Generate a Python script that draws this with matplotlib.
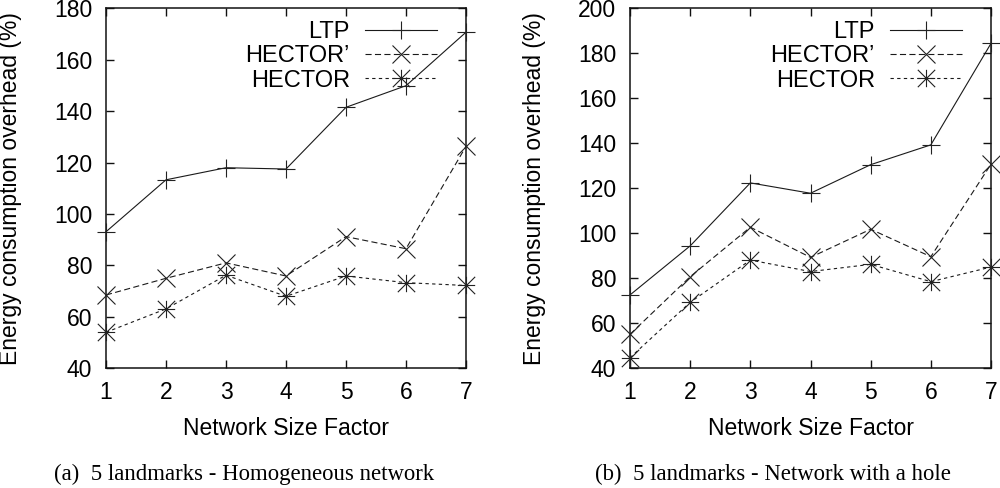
import matplotlib
matplotlib.use("Agg")
import matplotlib.pyplot as plt
from matplotlib.path import Path

plt.rcParams['font.family'] = ['Liberation Sans', 'DejaVu Sans']

# ---- data ----
size_factor = [1, 2, 3, 4, 5, 6, 7]

homog_ltp = [93.1, 113.3, 118.0, 117.5, 141.5, 149.9, 170.7]
homog_hector_p = [68.5, 75.0, 81.0, 75.9, 91.2, 86.5, 126.3]
homog_hector = [54.0, 63.1, 76.2, 68.0, 75.9, 73.3, 72.2]

hole_ltp = [72.6, 94.4, 122.4, 117.8, 130.5, 139.3, 184.4]
hole_hector_p = [55.1, 80.7, 102.7, 89.3, 101.8, 89.6, 130.7]
hole_hector = [44.7, 69.3, 88.1, 83.0, 86.2, 78.5, 85.0]

series_labels = ["LTP", "HECTOR\u2019", "HECTOR"]
x_ticks = [1, 2, 3, 4, 5, 6, 7]
y_ticks_a = [40, 60, 80, 100, 120, 140, 160, 180]
y_ticks_b = [40, 60, 80, 100, 120, 140, 160, 180, 200]
xlabel = "Network Size Factor"
ylabel = "Energy consumption overhead (%)"
caption_a = "(a)  5 landmarks - Homogeneous network"
caption_b = "(b)  5 landmarks - Network with a hole"

# ---- styling ----
star = Path([(-1, 0), (1, 0), (0, -1), (0, 1), (-1, -1), (1, 1), (-1, 1), (1, -1)],
            [Path.MOVETO, Path.LINETO] * 4)
line_color = '#1a1a1a'
FS = 16.5

fig = plt.figure(figsize=(10, 4.88), dpi=100)
ax_a = fig.add_axes([0.106, 0.2453, 0.360, 0.7377])
ax_b = fig.add_axes([0.630, 0.2453, 0.361, 0.7377])


def draw(ax, ltp, hp, h, yticks):
    styles = [
        dict(ls='-', marker='+', ms=13),
        dict(ls=(0, (5.5, 3.0)), marker='x', ms=12.5),
        dict(ls=(0, (3.0, 3.0)), marker=star, ms=12.5),
    ]
    for vals, lab, st in zip([ltp, hp, h], series_labels, styles):
        ax.plot(size_factor, vals, color=line_color, lw=0.8, ls=st['ls'],
                marker=st['marker'], ms=st['ms'], mew=0.8, mec='#222222',
                clip_on=False, label=lab, zorder=3)
    ax.set_xlim(1, 7)
    ax.set_ylim(yticks[0], yticks[-1])
    ax.set_xticks(x_ticks)
    ax.set_yticks(yticks)
    ax.tick_params(direction='in', length=6, width=1.0, top=True, right=True,
                   labelsize=FS, color='#111111')
    ax.tick_params(axis='y', pad=10)
    ax.tick_params(axis='x', pad=9)
    for s in ax.spines.values():
        s.set_linewidth(1.1)
        s.set_color('#111111')
    ax.set_xlabel(xlabel, fontsize=FS)
    ax.xaxis.set_label_coords(0.5, -0.166)
    ax.xaxis.label.set_va('center')
    ax.set_ylabel(ylabel, fontsize=FS)
    ax.yaxis.set_label_coords(-0.264, 0.5)
    ax.yaxis.label.set_va('center')
    ax.legend(loc='upper right', bbox_to_anchor=(0.92, 0.965), markerfirst=False,
              frameon=False, fontsize=17, handlelength=3.05, handletextpad=0.65,
              labelspacing=0.1, borderpad=0, borderaxespad=0)


draw(ax_a, homog_ltp, homog_hector_p, homog_hector, y_ticks_a)
draw(ax_b, hole_ltp, hole_hector_p, hole_hector, y_ticks_b)

fig.text(0.244, 0.027, caption_a, ha='center', va='center', fontsize=16.4,
         family=['Liberation Serif', 'DejaVu Serif'])
fig.text(0.773, 0.027, caption_b, ha='center', va='center', fontsize=16.4,
         family=['Liberation Serif', 'DejaVu Serif'])

fig.savefig("out.png", dpi=100)
